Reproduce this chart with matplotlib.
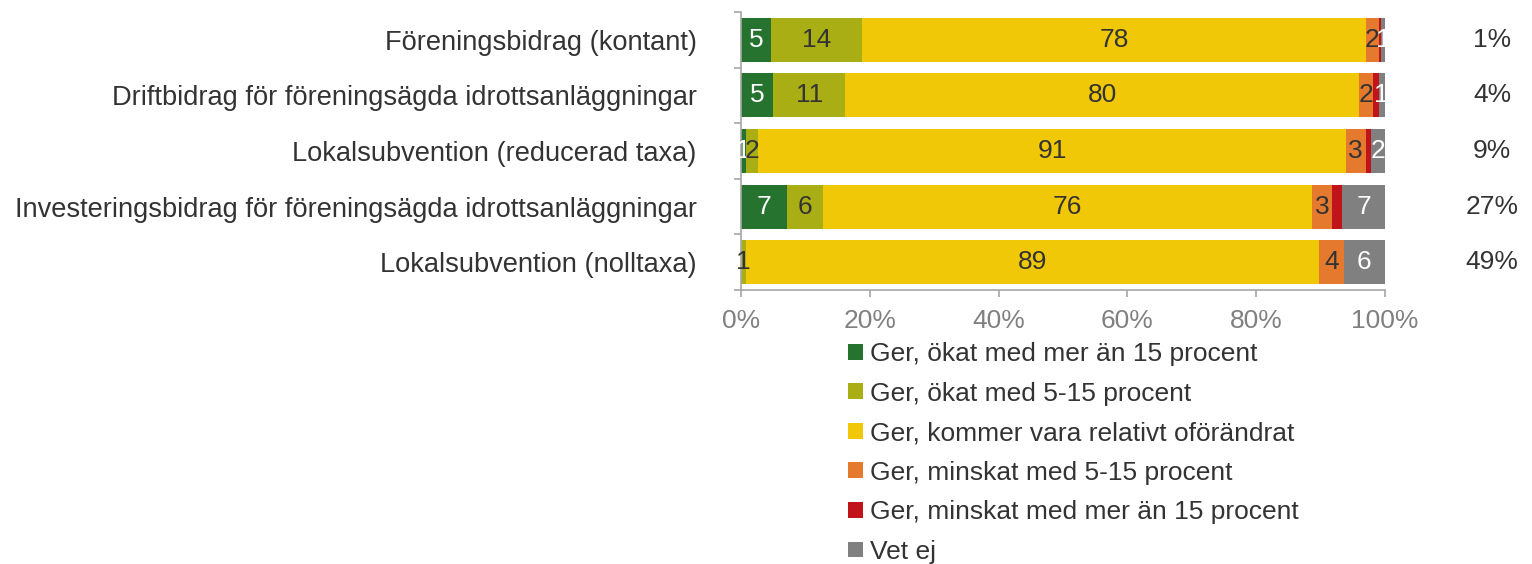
import matplotlib
matplotlib.use("Agg")
import matplotlib.pyplot as plt
from matplotlib.patches import Patch
from matplotlib.transforms import blended_transform_factory
import numpy as np

plt.rcParams['font.family'] = ['Liberation Sans', 'DejaVu Sans']

categories = [
    "Föreningsbidrag (kontant)",
    "Driftbidrag för föreningsägda idrottsanläggningar",
    "Lokalsubvention (reducerad taxa)",
    "Investeringsbidrag för föreningsägda idrottsanläggningar",
    "Lokalsubvention (nolltaxa)",
]
series_names = [
    "Ger, ökat med mer än 15 procent",
    "Ger, ökat med 5-15 procent",
    "Ger, kommer vara relativt oförändrat",
    "Ger, minskat med 5-15 procent",
    "Ger, minskat med mer än 15 procent",
    "Vet ej",
]
okat_mer15   = [4.6, 5.0, 0.8, 7.1, 0.0]
okat_5_15    = [14.2, 11.2, 1.9, 5.6, 0.8]
oforandrat   = [78.2, 79.8, 91.2, 76.0, 88.9]
minskat_5_15 = [2.0, 2.2, 3.1, 3.0, 3.9]
minskat_mer15 = [0.4, 0.8, 0.8, 1.7, 0.0]
vet_ej       = [0.6, 1.0, 2.2, 6.6, 6.4]
right_share = [1, 4, 9, 27, 49]

series = [okat_mer15, okat_5_15, oforandrat, minskat_5_15, minskat_mer15, vet_ej]
colors = ["#267330", "#A8AE14", "#F0C808", "#E57A2E", "#C0141A", "#808080"]
label_colors = ["white", "#333333", "#333333", "#333333", None, "white"]

FS = 19

fig = plt.figure(figsize=(15.32, 5.64), dpi=100)
ax = fig.add_axes([741/1532, 1-290/564, 644/1532, 278/564])

y = np.arange(len(categories))
left = np.zeros(len(categories))
for vals, col, lc in zip(series, colors, label_colors):
    vals = np.array(vals)
    ax.barh(y, vals, left=left, height=0.79, color=col, edgecolor='none')
    if lc is not None:
        for yi, (l, v) in enumerate(zip(left, vals)):
            r = int(round(v))
            if r >= 1:
                ax.text(l + v/2, yi, str(r), ha='center', va='center',
                        fontsize=FS, color=lc)
    left += vals

ax.set_xlim(0, 100)
ax.set_ylim(4.5, -0.5)
ax.set_yticks(y)
ax.set_yticklabels(categories, fontsize=19.6, color='#333333')
ax.tick_params(axis='y', which='major', length=0, pad=32)
ax.set_yticks(np.arange(-0.5, 5.0, 1.0), minor=True)
ax.tick_params(axis='y', which='minor', length=5, color='#A6A6A6', width=1.2)
ax.set_xticks(np.arange(0, 101, 20))
ax.set_xticklabels([f"{t}%" for t in range(0, 101, 20)], fontsize=FS, color='#808080')
ax.tick_params(axis='x', length=5, color='#A6A6A6', width=1.2, pad=9)
for s in ['top', 'right']:
    ax.spines[s].set_visible(False)
for s in ['left', 'bottom']:
    ax.spines[s].set_color('#A6A6A6')
    ax.spines[s].set_linewidth(1.2)

trans = blended_transform_factory(ax.transAxes, ax.transData)
for yi, v in enumerate(right_share):
    ax.text((1492-741)/644, yi, f"{v}%", transform=trans, ha='center', va='center',
            fontsize=FS, color='#333333')

handles = [Patch(facecolor=c, edgecolor='none') for c in colors]
fig.legend(handles, series_names, loc='upper left', bbox_to_anchor=(848/1532, 1-342/564),
           frameon=False, fontsize=FS, handlelength=0.55, handleheight=0.55,
           handletextpad=0.3, labelspacing=0.59, borderaxespad=0, borderpad=0,
           labelcolor='#333333')

fig.savefig("out.png", dpi=100)
